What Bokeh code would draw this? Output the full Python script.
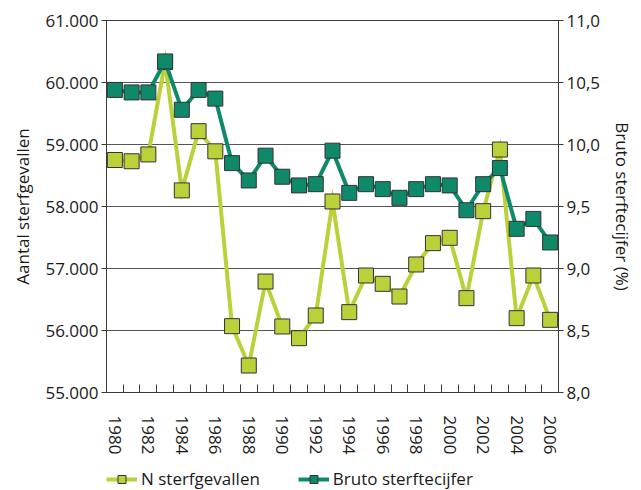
from bokeh.plotting import figure
from bokeh.models import Range1d, LinearAxis, FixedTicker, Legend, LegendItem
from bokeh.layouts import column
from bokeh.embed import file_html
from bokeh.resources import INLINE

years = list(range(1980, 2007))
n_sterfgevallen = [58750, 58730, 58840, 60330, 58260, 59215, 58890, 56070, 55435, 56790,
                   56065, 55876, 56242, 58081, 56296, 56887, 56753, 56548, 57065, 57409,
                   57495, 56522, 57925, 58919, 56199, 56887, 56172]
bruto_sterftecijfer = [10.44, 10.42, 10.42, 10.67, 10.28, 10.44, 10.37, 9.85, 9.71, 9.91,
                       9.74, 9.67, 9.68, 9.95, 9.61, 9.68, 9.64, 9.57, 9.64, 9.68,
                       9.67, 9.47, 9.68, 9.81, 9.32, 9.40, 9.21]

left_ticks = [55000, 56000, 57000, 58000, 59000, 60000, 61000]
left_tick_labels = ["55.000", "56.000", "57.000", "58.000", "59.000", "60.000", "61.000"]
right_ticks = [8.0, 8.5, 9.0, 9.5, 10.0, 10.5, 11.0]
right_tick_labels = ["8,0", "8,5", "9,0", "9,5", "10,0", "10,5", "11,0"]
year_ticks = years[::2]
series_names = ["N sterfgevallen", "Bruto sterftecijfer"]

FONT = "Open Sans"
FS = "17px"
TXT = "#1a1a1a"
YELLOW = "#bcd03a"
TEAL = "#0e8a6a"
AX = "#3a3a3a"

p = figure(width=637, height=458,
           x_range=Range1d(years[0] - 0.5, years[-1] + 0.5),
           y_range=Range1d(left_ticks[0], left_ticks[-1]),
           output_backend="svg", toolbar_location=None,
           min_border_left=106, min_border_top=20, min_border_right=75, min_border_bottom=66)
p.extra_y_ranges = {"rate": Range1d(right_ticks[0], right_ticks[-1])}
p.outline_line_color = AX
p.background_fill_color = "white"
p.border_fill_color = "white"

# lines + markers
p.line(years, n_sterfgevallen, line_color=YELLOW, line_width=4, line_join="miter")
p.scatter(years, n_sterfgevallen, marker="square", size=15, fill_color=YELLOW,
          line_color="#333333", line_width=1)
p.line(years, bruto_sterftecijfer, line_color=TEAL, line_width=4, line_join="miter",
       y_range_name="rate")
p.scatter(years, bruto_sterftecijfer, marker="square", size=15, fill_color=TEAL,
          line_color="#333333", line_width=1, y_range_name="rate")

# x axis
xa = p.xaxis[0]
xa.ticker = FixedTicker(ticks=year_ticks, minor_ticks=[y - 0.5 for y in years] + [years[-1] + 0.5])
xa.major_label_overrides = {y: str(y) for y in year_ticks}
xa.major_label_orientation = "vertical"
xa.major_tick_line_color = None
xa.major_tick_in = 0
xa.major_tick_out = 0
xa.minor_tick_in = 8
xa.minor_tick_out = 0
xa.minor_tick_line_color = AX
xa.axis_line_color = AX
xa.major_label_standoff = 23

# left axis
ya = p.yaxis[0]
ya.ticker = FixedTicker(ticks=left_ticks)
ya.major_label_overrides = dict(zip(left_ticks, left_tick_labels))
ya.axis_label = "Aantal sterfgevallen"
ya.axis_label_standoff = 8
ya.major_tick_in = 0
ya.major_tick_out = 5
ya.minor_tick_line_color = None
ya.major_label_standoff = 3
ya.axis_line_color = AX
ya.major_tick_line_color = AX

# right axis
ra = LinearAxis(y_range_name="rate", ticker=FixedTicker(ticks=right_ticks))
ra.major_label_overrides = dict(zip(right_ticks, right_tick_labels))
ra.axis_label = "Bruto sterftecijfer (%)"
ra.axis_label_standoff = 8
ra.major_tick_in = 0
ra.major_tick_out = 5
ra.minor_tick_line_color = None
ra.major_label_standoff = 3
ra.axis_line_color = AX
ra.major_tick_line_color = AX
p.add_layout(ra, "right")

for ax in (xa, ya, ra):
    ax.major_label_text_font = FONT
    ax.major_label_text_font_size = FS
    ax.major_label_text_color = TXT
    ax.axis_label_text_font = FONT
    ax.axis_label_text_font_size = FS
    ax.axis_label_text_font_style = "normal"
    ax.axis_label_text_color = TXT

# grid
p.xgrid.visible = False
p.ygrid.ticker = FixedTicker(ticks=left_ticks)
p.ygrid.grid_line_color = "#555555"
p.ygrid.grid_line_width = 1

# legend strip (separate small figure below the chart; its frame aligns with the chart's)
lg = figure(width=637, height=32, x_range=Range1d(0, 1), y_range=Range1d(0, 1),
            output_backend="svg", toolbar_location=None,
            min_border_left=0, min_border_right=0, min_border_top=0, min_border_bottom=0,
            x_axis_location=None, y_axis_location=None)
lg.outline_line_color = None
lg.xgrid.visible = False
lg.ygrid.visible = False
lg.border_fill_color = "white"
lg.background_fill_color = "white"
# proxy renderers for the legend (the data lies outside this strip's range, so nothing is drawn)
ll1 = lg.line(years, n_sterfgevallen, line_color=YELLOW, line_width=4)
ls1 = lg.scatter(years, n_sterfgevallen, marker="square", size=15, fill_color=YELLOW,
                 line_color="#333333", line_width=1)
ll2 = lg.line(years, bruto_sterftecijfer, line_color=TEAL, line_width=4)
ls2 = lg.scatter(years, bruto_sterftecijfer, marker="square", size=15, fill_color=TEAL,
                 line_color="#333333", line_width=1)
legend = Legend(items=[LegendItem(label=series_names[0], renderers=[ll1, ls1]),
                       LegendItem(label=series_names[1], renderers=[ll2, ls2])],
                orientation="horizontal", location=(0, 0),
                margin=0, padding=0, spacing=38, glyph_width=31, glyph_height=20,
                label_standoff=4, border_line_color=None, background_fill_alpha=0,
                label_text_font=FONT, label_text_font_size=FS, label_text_color=TXT)
lg.add_layout(legend, "center")

layout = column(p, lg, spacing=0)
open("out.html", "w").write(file_html(layout, INLINE))
